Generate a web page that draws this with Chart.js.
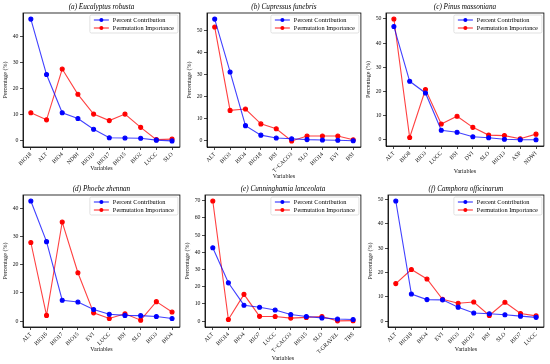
<!DOCTYPE html>
<html>
<head>
<meta charset="utf-8">
<script src="https://cdn.jsdelivr.net/npm/chart.js@4.4.1/dist/chart.umd.min.js"></script>
<style>
  html, body { margin: 0; padding: 0; background: #fff; }
  #page { position: relative; width: 550px; height: 364px; overflow: hidden; }
  .panel { position: absolute; }
</style>
</head>
<body>
<div id="page"></div>
<script>
// values
var labelsA = ['BIO18', 'ALT', 'BIO4', 'NDBI', 'BIO10', 'BIO17', 'BIO15', 'BIO2', 'LUCC', 'SLO'];
var contribA = [46.8, 25.5, 10.8, 8.6, 4.5, 1.2, 1.1, 1.0, 0.3, 0.0];
var permA = [10.8, 8.1, 27.6, 17.9, 10.3, 7.8, 10.3, 5.2, 0.5, 0.7];

var labelsB = ['ALT', 'BIO3', 'BIO4', 'BIO18', 'BSI', 'T\u2212CACO3', 'SLO', 'BIO14', 'EVI', 'BSI'];
var contribB = [55.1, 31.2, 6.9, 2.6, 1.3, 1.0, 0.6, 0.4, 0.3, 0.1];
var permB = [51.5, 13.8, 14.4, 7.7, 5.5, 0.0, 2.2, 2.2, 2.2, 0.5];

var labelsC = ['ALT', 'BIO8', 'BIO3', 'LUCC', 'BSI', 'DVI', 'SLO', 'BIO13', 'ASP', 'NDWI'];
var contribC = [46.8, 24.2, 19.4, 4.0, 3.2, 1.3, 0.9, 0.3, 0.1, 0.1];
var permC = [49.9, 1.0, 20.8, 6.6, 9.8, 5.2, 2.0, 1.8, 0.5, 2.4];

var labelsD = ['ALT', 'BIO16', 'BIO17', 'BIO15', 'EVI', 'LUCC', 'BSI', 'SLO', 'BIO3', 'BIO4'];
var contribD = [42.8, 28.3, 7.4, 6.8, 4.1, 2.4, 2.0, 1.9, 1.6, 0.9];
var permD = [28.0, 2.0, 35.3, 17.2, 2.9, 0.9, 2.6, 0.3, 6.9, 3.2];

var labelsE = ['ALT', 'BIO14', 'BIO4', 'BIO7', 'LUCC', 'T\u2212CACO3', 'BIO15', 'SLO', 'T-GRAVEL', 'TBS'];
var contribE = [42.6, 22.2, 9.2, 8.0, 6.4, 3.8, 2.6, 1.8, 1.2, 0.9];
var permE = [69.8, 0.9, 15.5, 2.7, 2.6, 1.7, 2.1, 2.6, 0.1, 0.2];

var labelsF = ['ALT', 'BIO18', 'BIO4', 'EVI', 'BIO3', 'BIO15', 'BSI', 'SLO', 'BIO7', 'LUCC'];
var contribF = [49.4, 11.1, 8.8, 8.7, 5.7, 3.3, 3.0, 2.6, 2.0, 1.5];
var permF = [15.4, 21.2, 17.3, 8.9, 7.3, 7.8, 2.3, 7.7, 3.1, 2.1];

var titles = ['(a) Eucalyptus robusta', '(b) Cupressus funebris', '(c) Pinus massoniana',
              '(d) Phoebe zhennan', '(e) Cunninghamia lanceolata', '(f) Camphora officinarum'];
var seriesNames = ['Percent Contribution', 'Permutation Importance'];

var FONT = '"Liberation Serif", "DejaVu Serif", serif';
var YW = 22;   // room for y ticks + y title
var TOP = 13;  // room for panel title

// layout of each plot box: left, right, top, bottom, height of x axis block
var boxes = [
  [23, 182, 13, 147, 26], [207, 363, 13, 147, 34], [386, 546, 13, 146, 30],
  [23, 182, 195, 327, 27], [205, 363, 195, 327, 36], [388, 546, 195, 327, 27]
];

//draws frame, italic title and a matplotlib-ish legend inside the plot
var framePlugin = {
  id: 'frame',
  afterDraw: function (chart, args, opts) {
    var a = chart.chartArea, ctx = chart.ctx;
    ctx.save();
    ctx.strokeStyle = '#000';
    ctx.lineWidth = 0.8;
    ctx.strokeRect(a.left, a.top, a.right - a.left, a.bottom - a.top);

    ctx.fillStyle = '#000';
    ctx.font = 'italic 7.2px ' + FONT;
    ctx.textAlign = 'center';
    ctx.textBaseline = 'middle';
    ctx.fillText(opts.title, (a.left + a.right) / 2, a.top - 6);

    // legend box
    ctx.font = '6.3px ' + FONT;
    var tw = 0;
    chart.data.datasets.forEach(function (d) { tw = Math.max(tw, ctx.measureText(d.label).width); });
    var w = tw + 27, h = 18;
    var x = a.right - 2 - w, y = a.top + 2;
    ctx.beginPath();
    ctx.roundRect(x, y, w, h, 1.5);
    ctx.fillStyle = 'rgba(255,255,255,0.8)';
    ctx.fill();
    ctx.strokeStyle = '#cccccc';
    ctx.lineWidth = 0.6;
    ctx.stroke();
    chart.data.datasets.forEach(function (d, i) {
      var ly = y + 5 + i * 8;
      ctx.strokeStyle = d.borderColor;
      ctx.lineWidth = 1.2;
      ctx.beginPath();
      ctx.moveTo(x + 4, ly);
      ctx.lineTo(x + 19, ly);
      ctx.stroke();
      ctx.fillStyle = d.pointBackgroundColor;
      ctx.beginPath();
      ctx.arc(x + 11.5, ly, 2, 0, Math.PI * 2);
      ctx.fill();
      ctx.fillStyle = '#000';
      ctx.textAlign = 'left';
      ctx.fillText(d.label, x + 23, ly + 0.3);
    });
    ctx.restore();
  }
};

function buildPanel(idx, labels, contrib, perm) {
  var b = boxes[idx];
  var cw = b[1] - b[0] + YW + 3;
  var ch = b[3] - b[2] + TOP + b[4];
  var div = document.createElement('div');
  div.className = 'panel';
  div.style.left = (b[0] - YW) + 'px';
  div.style.top = (b[2] - TOP) + 'px';
  var canvas = document.createElement('canvas');
  canvas.width = cw;
  canvas.height = ch;
  canvas.style.width = cw + 'px';
  canvas.style.height = ch + 'px';
  div.appendChild(canvas);
  document.getElementById('page').appendChild(div);

  var top = Math.max.apply(null, contrib.concat(perm));
  var tickFont = { family: FONT, size: 5.8 };

  new Chart(canvas, {
    type: 'line',
    data: {
      labels: labels,
      datasets: [
        { label: seriesNames[0], data: contrib, borderColor: 'rgba(0,0,255,0.75)', pointBackgroundColor: '#0000ff',
          pointBorderColor: '#0000ff', pointRadius: 2, borderWidth: 1.1, tension: 0 },
        { label: seriesNames[1], data: perm, borderColor: 'rgba(255,0,0,0.75)', pointBackgroundColor: '#ff0000',
          pointBorderColor: '#ff0000', pointRadius: 2, borderWidth: 1.1, tension: 0 }
      ]
    },
    options: {
      responsive: false,
      animation: false,
      devicePixelRatio: 1,
      layout: { padding: { top: TOP, right: 3, left: 0, bottom: 0 } },
      plugins: { legend: { display: false }, title: { display: false }, tooltip: { enabled: false },
                 frame: { title: titles[idx] } },
      scales: {
        x: {
          type: 'category',
          offset: true,
          afterFit: function (s) { s.height = b[4]; },
          grid: { drawOnChartArea: false, drawTicks: true, tickLength: 3, color: '#000', lineWidth: 0.7 },
          border: { display: true, color: '#000', width: 0.8 },
          ticks: { autoSkip: false, minRotation: 45, maxRotation: 45, padding: 1, color: '#111', font: tickFont },
          title: { display: true, text: 'Variables', color: '#111', font: { family: FONT, size: 6 },
                   padding: { top: 0, bottom: 1 } }
        },
        y: {
          min: -0.05 * top,
          max: top * 1.05,
          afterFit: function (s) { s.width = YW; },
          grid: { drawOnChartArea: false, drawTicks: true, tickLength: 3, color: '#000', lineWidth: 0.7 },
          border: { display: true, color: '#000', width: 0.8 },
          ticks: { stepSize: 10, includeBounds: false, padding: 1.5, color: '#111', font: tickFont },
          title: { display: true, text: 'Percentage (%)', color: '#111', font: { family: FONT, size: 6 },
                   padding: { top: 1, bottom: 0 } }
        }
      }
    },
    plugins: [framePlugin]
  });
}

buildPanel(0, labelsA, contribA, permA);
buildPanel(1, labelsB, contribB, permB);
buildPanel(2, labelsC, contribC, permC);
buildPanel(3, labelsD, contribD, permD);
buildPanel(4, labelsE, contribE, permE);
buildPanel(5, labelsF, contribF, permF);
</script>
</body>
</html>
